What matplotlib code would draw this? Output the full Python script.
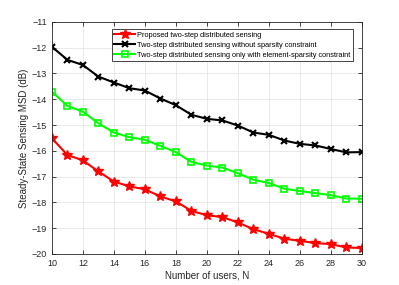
import matplotlib
matplotlib.use("Agg")
import matplotlib.pyplot as plt

users = list(range(10, 31))
proposed = [-15.51, -16.16, -16.37, -16.80, -17.19, -17.38, -17.49, -17.77, -17.96, -18.33,
            -18.50, -18.57, -18.78, -19.04, -19.22, -19.41, -19.49, -19.58, -19.62, -19.75, -19.77]
no_sparsity = [-11.96, -12.47, -12.67, -13.12, -13.35, -13.57, -13.66, -13.97, -14.23, -14.60,
               -14.76, -14.82, -15.02, -15.29, -15.38, -15.60, -15.73, -15.79, -15.93, -16.06, -16.05]
element_only = [-13.70, -14.26, -14.48, -14.93, -15.29, -15.47, -15.57, -15.81, -16.05, -16.43,
                -16.57, -16.65, -16.87, -17.12, -17.25, -17.47, -17.56, -17.64, -17.72, -17.85, -17.86]
labels = ["Proposed two-step distributed sensing",
          "Two-step distributed sensing without sparsity constraint",
          "Two-step distributed sensing only with element-sparsity constraint"]
xticks = list(range(10, 31, 2))
yticks = list(range(-20, -10))

plt.rcParams['font.family'] = ['Liberation Sans', 'DejaVu Sans']
fig = plt.figure(figsize=(3.99, 2.85), dpi=100)
ax = fig.add_axes([0.130, 0.109, 0.777, 0.814])

ax.plot(users, proposed, color='red', marker='*', markersize=7, linewidth=1.5, label=labels[0])
ax.plot(users, no_sparsity, color='black', marker='x', markersize=4, markeredgewidth=1.5,
        linewidth=1.5, label=labels[1])
ax.plot(users, element_only, color='#00ff00', marker='s', markersize=4, markerfacecolor='none',
        markeredgewidth=1.2, linewidth=1.5, label=labels[2])

ax.set_xlim(10, 30)
ax.set_ylim(-20, -11)
ax.set_xticks(xticks)
ax.set_yticks(yticks)
ax.tick_params(direction='in', length=3, labelsize=6.5, colors='#262626', top=True, right=True,
               width=0.6)
ax.grid(True, color='#e6e6e6', linewidth=0.6)
ax.set_axisbelow(True)
for s in ax.spines.values():
    s.set_color('#262626')
    s.set_linewidth(0.6)
ax.set_xlabel("Number of users, N", fontsize=7, color='#262626', labelpad=2)
ax.set_ylabel("Steady-State Sensing MSD (dB)", fontsize=7, color='#262626', labelpad=2)

leg = ax.legend(loc='upper right', bbox_to_anchor=(0.971, 0.970), fontsize=5.3,
                fancybox=False, framealpha=1, edgecolor='#262626', borderpad=0.35,
                labelspacing=0.4, handlelength=2.8, handletextpad=0.3, borderaxespad=0)
leg.get_frame().set_linewidth(0.6)

fig.savefig("out.png", dpi=100)
